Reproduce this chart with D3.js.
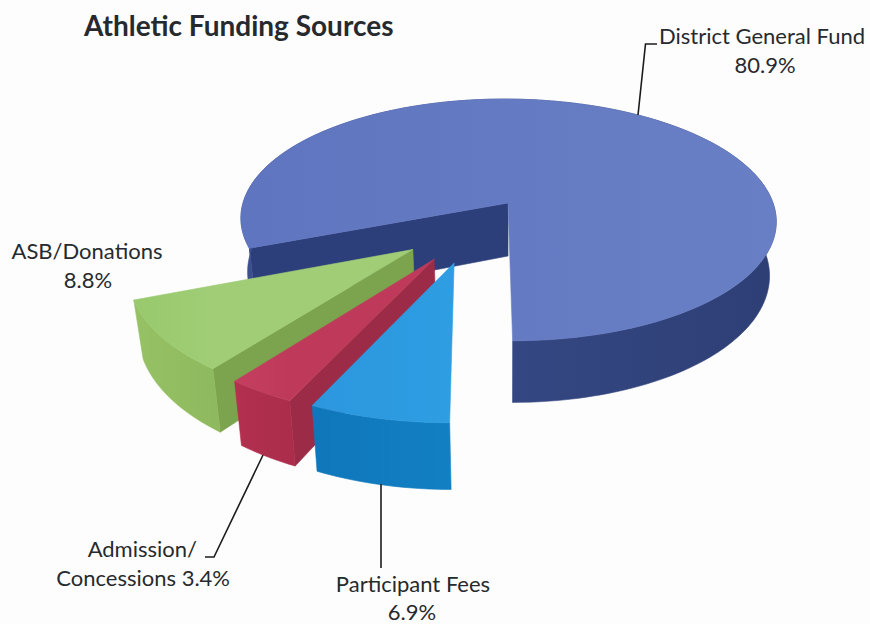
<!DOCTYPE html>
<html>
<head>
<meta charset="utf-8">
<script src="https://cdn.jsdelivr.net/npm/d3@7"></script>
<style>
  html, body { margin: 0; padding: 0; background: #fdfdfd; }
  svg { display: block; }
  text { font-family: Lato, "Open Sans", sans-serif; fill: #262a2e; }
</style>
</head>
<body>
<svg id="chart" width="870" height="624"></svg>
<script>
// Funding shares, clockwise from the left edge of the large slice
const sources = ["District General Fund", "Participant Fees", "Admission/Concessions", "ASB/Donations"];
const shares = [80.9, 6.9, 3.4, 8.8];

// How far each wedge is pulled out of the pie, in pie radii on the ground plane
const pullX = [0, -0.197, -0.268, -0.346];
const pullY = [0, 0.472, 0.445, 0.372];

// Face colours per wedge
const topFrom = ["#5f75bf", "#2c97de", "#c43e60", "#98c96c"];
const topTo = ["#697fc5", "#2e9de2", "#bf3a5a", "#a0cd76"];
const rimFrom = ["#3c4f8e", "#0f76ba", "#b3304f", "#96c265"];
const rimTo = ["#2e3f76", "#1380c4", "#ab2c4b", "#8fb95e"];
const cutColor = ["#2d3f7b", "#1277ba", "#9b2b47", "#7ca34e"];

// Back-to-front painting order of the wedges
const paintOrder = [0, 3, 2, 1];

const svg = d3.select("#chart");
const defs = svg.append("defs");

// Tilted-view camera for the pie: perspective on the ground plane plus a wall depth
const view = { cx: 508, cy: 203, rx: 265, ry: 118.5, persp: 0.14, shear: 4, depth: 53, taper: 0.975 };

function project(x, y, low) {
  const s = 1 / (1 - view.persp * y);
  const px = view.cx + (view.rx * x + view.shear * y) * s;
  const py = view.cy + view.ry * y * s;
  if (!low) return [px, py];
  return [view.cx + (px - view.cx) * view.taper, py + view.depth * s];
}

const pie = d3.pie().sort(null).startAngle(-111.24 * Math.PI / 180).endAngle((360 - 111.24) * Math.PI / 180);
const wedges = pie(shares);
const line = d3.line();

function arcPoints(w, i, low) {
  const n = Math.max(6, Math.ceil((w.endAngle - w.startAngle) * 40));
  return d3.range(n + 1).map(k => {
    const a = w.startAngle + (w.endAngle - w.startAngle) * k / n;
    return project(pullX[i] + Math.sin(a), pullY[i] - Math.cos(a), low);
  });
}

function gradient(id, from, to, x1, x2) {
  const g = defs.append("linearGradient").attr("id", id)
    .attr("gradientUnits", "userSpaceOnUse")
    .attr("x1", x1).attr("x2", x2).attr("y1", 0).attr("y2", 0);
  g.append("stop").attr("offset", 0).attr("stop-color", from);
  g.append("stop").attr("offset", 1).attr("stop-color", to);
}

const face = (d, fill) => svg.append("path")
  .attr("d", line(d) + "Z").attr("fill", fill)
  .attr("stroke", fill).attr("stroke-width", 0.6).attr("stroke-linejoin", "round");

// A cut face narrower than this on screen is treated as edge-on and skipped
const edgeOn = 6;

paintOrder.forEach(i => {
  const w = wedges[i];
  const topArc = arcPoints(w, i, false);
  const lowArc = arcPoints(w, i, true);
  const apexTop = project(pullX[i], pullY[i], false);
  const apexLow = project(pullX[i], pullY[i], true);
  const xs = d3.extent(topArc, p => p[0]);

  gradient("top" + i, topFrom[i], topTo[i], xs[0], xs[1]);
  gradient("rim" + i, rimFrom[i], rimTo[i], Math.min(xs[0], apexTop[0]), xs[1]);

  // Radial cut faces, drawn only when turned towards the viewer
  const first = topArc[0], last = topArc[topArc.length - 1];
  if (first[0] < apexTop[0] - edgeOn) {
    face([apexTop, first, lowArc[0], apexLow], cutColor[i]);
  }
  if (last[0] > apexTop[0] + edgeOn) {
    face([apexTop, last, lowArc[lowArc.length - 1], apexLow], cutColor[i]);
  }

  // Curved outer wall, then the top surface over it
  face(topArc.concat(lowArc.slice().reverse()), `url(#rim${i})`);
  face([apexTop].concat(topArc), `url(#top${i})`);
});

// Title
svg.append("text").attr("x", 84).attr("y", 36)
  .attr("font-size", 28).attr("font-weight", 700).attr("fill", "#20272c")
  .text("Athletic Funding Sources");

// Leader lines from the labels to their wedges
const leaders = [
  [[638, 115], [645.5, 44], [657, 44]],
  [[381, 484], [381, 568]],
  [[263, 455], [214, 557], [205, 557]]
];
leaders.forEach(l => svg.append("path").attr("d", line(l))
  .attr("fill", "none").attr("stroke", "#1c1c1c").attr("stroke-width", 1.6));

// Category labels
const labels = [
  { t: sources[0], x: 762, y: 44, a: "middle" },
  { t: shares[0].toFixed(1) + "%", x: 765, y: 73, a: "middle" },
  { t: sources[3], x: 87, y: 259, a: "middle" },
  { t: shares[3].toFixed(1) + "%", x: 88, y: 288, a: "middle" },
  { t: "Admission/", x: 197, y: 557, a: "end" },
  { t: "Concessions " + shares[2].toFixed(1) + "%", x: 230, y: 586, a: "end" },
  { t: sources[1], x: 413, y: 592, a: "middle" },
  { t: shares[1].toFixed(1) + "%", x: 412, y: 620, a: "middle" }
];
svg.selectAll("text.label").data(labels).join("text")
  .attr("class", "label")
  .attr("x", d => d.x).attr("y", d => d.y)
  .attr("text-anchor", d => d.a)
  .attr("font-size", 22)
  .text(d => d.t);
</script>
</body>
</html>
